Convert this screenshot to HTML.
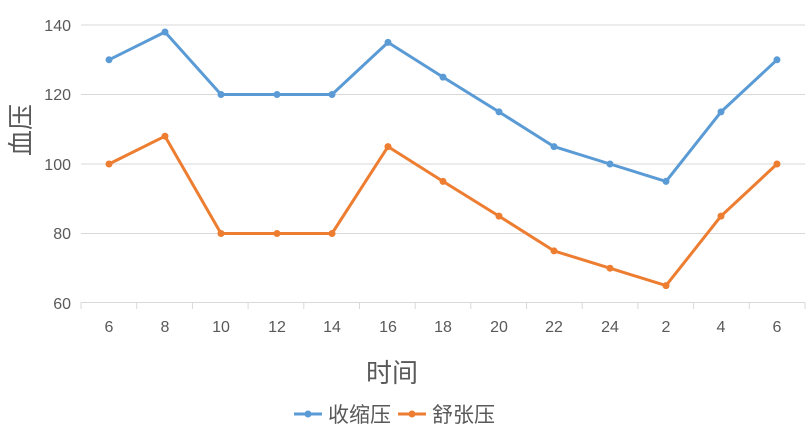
<!DOCTYPE html>
<html><head><meta charset="utf-8"><style>body{margin:0;background:#fff}svg{display:block}text{font-family:"Liberation Sans","Noto Sans CJK SC",sans-serif;fill:#595959}</style></head><body>
<svg width="810" height="439" viewBox="0 0 810 439">
<g stroke="#d9d9d9" stroke-width="1">
<line x1="81" y1="25" x2="805" y2="25"/><line x1="81" y1="94.5" x2="805" y2="94.5"/><line x1="81" y1="164" x2="805" y2="164"/><line x1="81" y1="233.5" x2="805" y2="233.5"/><line x1="81" y1="302.5" x2="805" y2="302.5"/>
<g id="t"></g>
</g>
<g stroke="#d9d9d9">
<line x1="81" y1="302.5" x2="81" y2="309"/><line x1="136.7" y1="302.5" x2="136.7" y2="309"/><line x1="192.4" y1="302.5" x2="192.4" y2="309"/><line x1="248.1" y1="302.5" x2="248.1" y2="309"/><line x1="303.8" y1="302.5" x2="303.8" y2="309"/><line x1="359.5" y1="302.5" x2="359.5" y2="309"/><line x1="415.2" y1="302.5" x2="415.2" y2="309"/><line x1="470.8" y1="302.5" x2="470.8" y2="309"/><line x1="526.5" y1="302.5" x2="526.5" y2="309"/><line x1="582.2" y1="302.5" x2="582.2" y2="309"/><line x1="637.9" y1="302.5" x2="637.9" y2="309"/><line x1="693.6" y1="302.5" x2="693.6" y2="309"/><line x1="749.3" y1="302.5" x2="749.3" y2="309"/><line x1="805" y1="302.5" x2="805" y2="309"/>
</g>
<g font-size="16" text-anchor="end">
<text x="71" y="31">140</text><text x="71" y="100">120</text><text x="71" y="170">100</text><text x="71" y="239">80</text><text x="71" y="309">60</text>
</g>
<g font-size="16" text-anchor="middle">
<text x="109" y="332">6</text><text x="165" y="332">8</text><text x="221" y="332">10</text><text x="277" y="332">12</text><text x="332" y="332">14</text><text x="388" y="332">16</text><text x="443" y="332">18</text><text x="499" y="332">20</text><text x="554" y="332">22</text><text x="610" y="332">24</text><text x="666" y="332">2</text><text x="721" y="332">4</text><text x="777" y="332">6</text>
</g>
<text x="392" y="382" font-size="26" text-anchor="middle">时间</text>
<text transform="translate(30,130) rotate(-90)" font-size="26" text-anchor="middle">血压</text>
<polyline fill="none" stroke="#5b9bd5" stroke-width="3" stroke-linejoin="round" points="109,59.8 165,32 221,94.5 277,94.5 332,94.5 388,42.4 443,77.1 499,111.9 554,146.6 610,164 666,181.4 721,111.9 777,59.8"/>
<g fill="#5b9bd5"><circle cx="109" cy="59.8" r="3.5"/><circle cx="165" cy="32" r="3.5"/><circle cx="221" cy="94.5" r="3.5"/><circle cx="277" cy="94.5" r="3.5"/><circle cx="332" cy="94.5" r="3.5"/><circle cx="388" cy="42.4" r="3.5"/><circle cx="443" cy="77.1" r="3.5"/><circle cx="499" cy="111.9" r="3.5"/><circle cx="554" cy="146.6" r="3.5"/><circle cx="610" cy="164" r="3.5"/><circle cx="666" cy="181.4" r="3.5"/><circle cx="721" cy="111.9" r="3.5"/><circle cx="777" cy="59.8" r="3.5"/></g>
<polyline fill="none" stroke="#ed7d31" stroke-width="3" stroke-linejoin="round" points="109,164 165,136.2 221,233.5 277,233.5 332,233.5 388,146.6 443,181.4 499,216.1 554,250.9 610,268.2 666,285.6 721,216.1 777,164"/>
<g fill="#ed7d31"><circle cx="109" cy="164" r="3.5"/><circle cx="165" cy="136.2" r="3.5"/><circle cx="221" cy="233.5" r="3.5"/><circle cx="277" cy="233.5" r="3.5"/><circle cx="332" cy="233.5" r="3.5"/><circle cx="388" cy="146.6" r="3.5"/><circle cx="443" cy="181.4" r="3.5"/><circle cx="499" cy="216.1" r="3.5"/><circle cx="554" cy="250.9" r="3.5"/><circle cx="610" cy="268.2" r="3.5"/><circle cx="666" cy="285.6" r="3.5"/><circle cx="721" cy="216.1" r="3.5"/><circle cx="777" cy="164" r="3.5"/></g>
<line x1="294" y1="414" x2="322" y2="414" stroke="#5b9bd5" stroke-width="3"/><circle cx="308" cy="414" r="3.5" fill="#5b9bd5"/>
<text x="328" y="422" font-size="21">收缩压</text>
<line x1="398" y1="414" x2="426" y2="414" stroke="#ed7d31" stroke-width="3"/><circle cx="412" cy="414" r="3.5" fill="#ed7d31"/>
<text x="432" y="422" font-size="21">舒张压</text>
</svg>
</body></html>
